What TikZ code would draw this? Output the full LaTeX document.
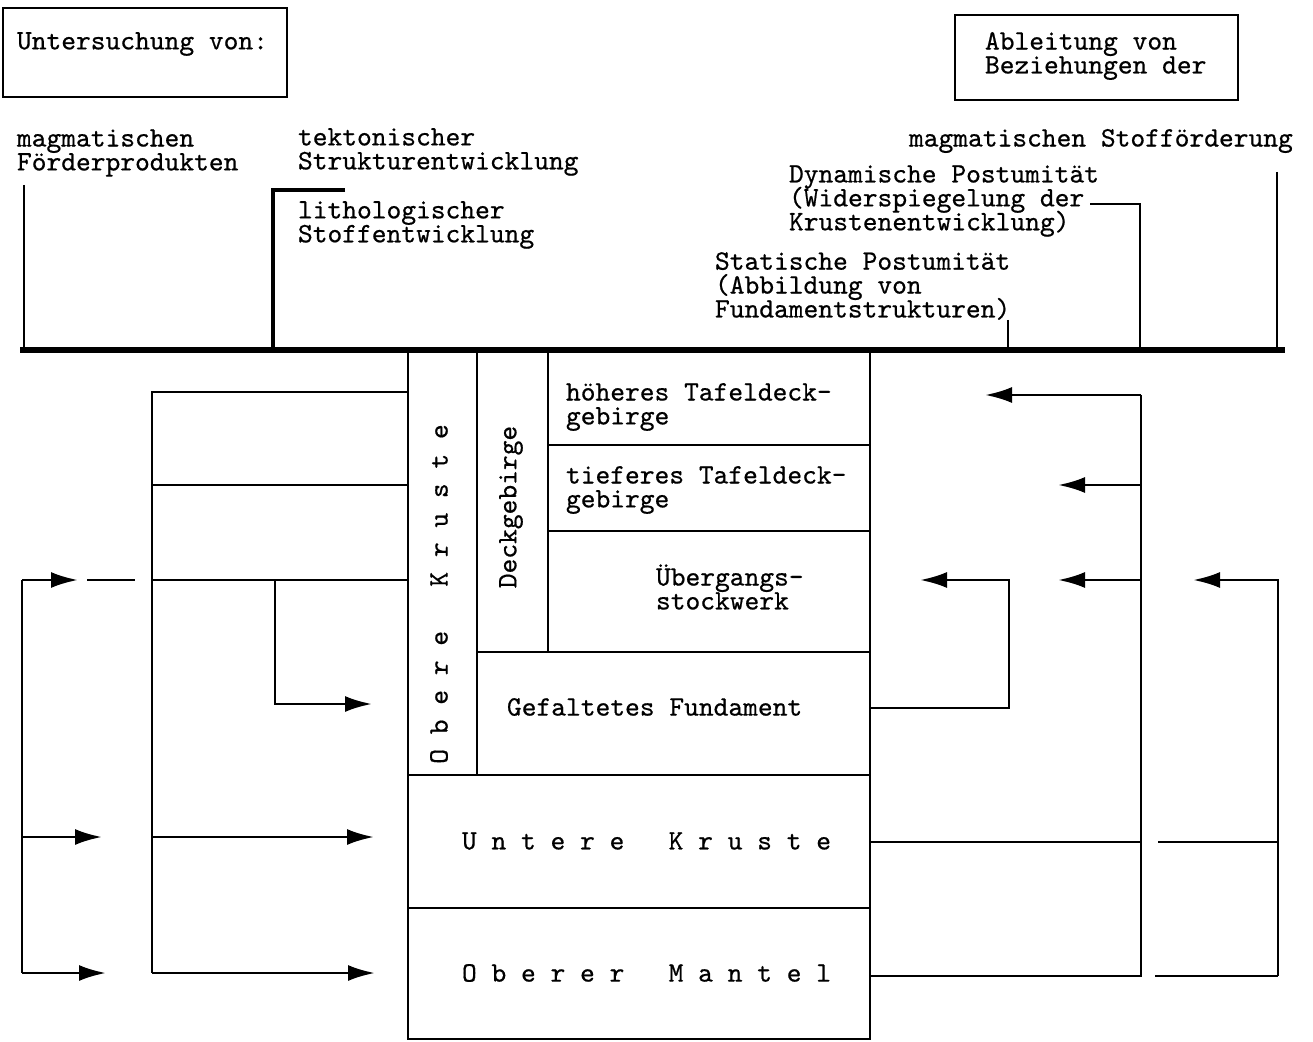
\documentclass[tikz,border=0pt]{standalone}
\usepackage{fontspec}
\usetikzlibrary{arrows.meta}
\newfontfamily\typew{lmmono10-regular.otf}[FakeBold=0.6]
\newcommand\twfont{\typew\fontsize{8}{6.8}\selectfont\setlength{\lineskiplimit}{-10pt}}
\begin{document}
\begin{tikzpicture}[x=0.1mm, y=-0.1mm,
    every node/.style={font=\twfont, inner sep=0pt, outer sep=0pt},
    cell/.style={draw, thick, anchor=north west},
    txt/.style={anchor=west, align=left},
    arr/.style={thick, -{Latex[length=2.7mm, width=1.6mm]}}]
    \useasboundingbox (0,0) rectangle (1313,1042);

    % Kopfkaesten
    \node[cell, minimum width=28.4mm, minimum height=8.9mm] (unters) at (3,8) {};
    \node[cell, minimum width=28.3mm, minimum height=8.5mm] (ableit) at (955,15) {};
    \node[txt] (untersT) at (17,44) {Untersuchung von:};
    \node[txt] (ableitT) at (985,56) {Ableitung von\\Beziehungen der};

    % Spaltentitel
    \node[txt] (magF) at (17,153) {magmatischen\\Förderprodukten};
    \node[txt] (tekt) at (298,152) {tektonischer\\Strukturentwicklung};
    \node[txt] (lith) at (298,225) {lithologischer\\Stoffentwicklung};
    \node[txt] (magS) at (909,141) {magmatischen Stofförderung};
    \node[txt] (dyn) at (789,201) {Dynamische Postumität\\(Widerspiegelung der\\Krustenentwicklung)};
    \node[txt] (stat) at (715,286) {Statische Postumität\\(Abbildung von\\Fundamentstrukturen)};

    % Stockwerke
    \node[cell, minimum width=6.9mm, minimum height=42.3mm] (okr) at (408,352) {};
    \node[cell, minimum width=7.1mm, minimum height=30.0mm] (deck) at (477,352) {};
    \node[cell, minimum width=32.2mm, minimum height=9.3mm] (hoeh) at (548,352) {};
    \node[cell, minimum width=32.2mm, minimum height=8.6mm] (tief) at (548,445) {};
    \node[cell, minimum width=32.2mm, minimum height=12.1mm] (ueb) at (548,531) {};
    \node[cell, minimum width=39.3mm, minimum height=12.3mm] (fund) at (477,652) {};
    \node[cell, minimum width=46.2mm, minimum height=13.3mm] (ukr) at (408,775) {};
    \node[cell, minimum width=46.2mm, minimum height=13.1mm] (mant) at (408,908) {};

    \node[rotate=90] (okrT) at (439,594) {O b e r e\ \ \ K r u s t e};
    \node[rotate=90] (deckT) at (511,507) {Deckgebirge};
    \node[txt] (hoehT) at (566,407) {höheres Tafeldeck-\\gebirge};
    \node[txt] (tiefT) at (566,490) {tieferes Tafeldeck-\\gebirge};
    \node[txt] (uebT) at (656,587) {Übergangs-\\stockwerk};
    \node[txt] (fundT) at (507,707) {Gefaltetes Fundament};
    \node[txt] (ukrT) at (462,841) {U n t e r e\ \ \ K r u s t e};
    \node[txt] (mantT) at (462,973) {O b e r e r\ \ \ M a n t e l};

    % Balken und Zuleitungen oben
    \coordinate (barL) at (20,350);
    \coordinate (barR) at (1285,350);
    \coordinate (vA) at (24,185);
    \coordinate (vB) at (273,190);
    \coordinate (vB2) at (345,190);
    \coordinate (vC) at (1008,320);
    \coordinate (vD) at (1140,204);
    \coordinate (vD2) at (1090,204);
    \coordinate (vE) at (1277,172);
    \draw[thick] (vA) -- (vA |- barL);
    \draw[line width=1.3pt] (vB2) -- (vB) -- (vB |- barL);
    \draw[thick] (vC) -- (vC |- barL);
    \draw[thick] (vD2) -- (vD) -- (vD |- barL);
    \draw[thick] (vE) -- (vE |- barL);
    \draw[line width=1.7pt] (barL) -- (barR);

    % linke Seite
    \coordinate (lA) at (152,392);
    \coordinate (lB) at (152,485);
    \coordinate (lC) at (152,580);
    \coordinate (lD) at (152,837);
    \coordinate (lE) at (152,973);
    \draw[thick] (lA -| okr.west) -- (lA) -- (lE);
    \draw[thick] (lB) -- (lB -| okr.west);
    \draw[thick] (lC) -- (lC -| okr.west);
    \draw[arr, shorten >=3.4mm] (lD) -- (lD -| ukr.west);
    \draw[arr, shorten >=3.3mm] (lE) -- (lE -| mant.west);

    \coordinate (bA) at (275,580);
    \coordinate (bB) at (275,704);
    \draw[arr, shorten >=3.6mm] (bA) -- (bB) -- (bB -| okr.west);

    \coordinate (fA) at (22,580);
    \coordinate (fD) at (22,837);
    \coordinate (fE) at (22,973);
    \coordinate (fG1) at (87,580);
    \coordinate (fG2) at (135,580);
    \draw[thick] (fA) -- (fE);
    \draw[arr] (fA) -- ++(56,0);
    \draw[thick] (fG1) -- (fG2);
    \draw[arr] (fD) -- ++(80,0);
    \draw[arr] (fE) -- ++(84,0);

    % rechte Seite
    \coordinate (rA) at (1141,395);
    \coordinate (rB) at (1141,485);
    \coordinate (rC) at (1141,580);
    \coordinate (rD) at (1141,842);
    \coordinate (rE) at (1141,976);
    \draw[thick] (rA) -- (rE) -- (rE -| mant.east);
    \draw[thick] (rD) -- (rD -| ukr.east);
    \draw[arr] (rA) -- ++(-156,0);
    \draw[arr] (rB) -- ++(-83,0);
    \draw[arr] (rC) -- ++(-83,0);

    \coordinate (sA) at (1009,580);
    \coordinate (sB) at (1009,708);
    \draw[arr] (sB -| fund.east) -- (sB) -- (sA) -- ++(-89,0);

    \coordinate (tA) at (1278,580);
    \coordinate (tD) at (1278,842);
    \coordinate (tE) at (1278,976);
    \draw[arr] (tE) -- (tA) -- ++(-85,0);
    \draw[thick] (tD) -- ++(-120,0);
    \draw[thick] (tE) -- ++(-123,0);
\end{tikzpicture}
\end{document}
